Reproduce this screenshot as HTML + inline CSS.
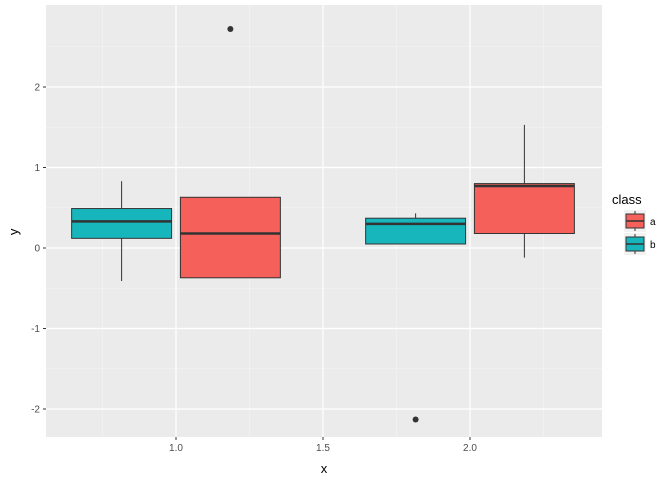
<!DOCTYPE html>
<html><head><meta charset="utf-8"><style>
body{margin:0;background:#fff;font-family:"Liberation Sans",Arial,sans-serif}
</style></head><body>
<svg id="chart" width="672" height="480" xmlns="http://www.w3.org/2000/svg"></svg>
<script>
const groups=["1.0","2.0"];
const xPos=[0.815,1.185,1.815,2.185];
const classes=["b","a","b","a"];
const whiskerHigh=[0.83,0.63,0.43,1.53];
const q3=[0.49,0.63,0.37,0.80];
const medians=[0.33,0.18,0.30,0.77];
const q1=[0.12,-0.37,0.05,0.18];
const whiskerLow=[-0.41,-0.37,0.05,-0.12];
const outX=[1.185,1.815];
const outY=[2.72,-2.13];
const yTicks=[-2,-1,0,1,2];
const xTicks=[1.0,1.5,2.0];
const fills={a:"#F5605A",b:"#17B6BD"};
const ns="http://www.w3.org/2000/svg";
const svg=document.getElementById('chart');
const P={l:46,r:602,t:5,b:437};
const X=v=>176+(v-1)*294;
const Y=v=>248-v*80.5;
const bw=0.34*294;
function el(t,a,p){const e=document.createElementNS(ns,t);for(const k in a)e.setAttribute(k,a[k]);(p||svg).appendChild(e);return e;}
const panel=el('rect',{x:P.l,y:P.t,width:P.r-P.l,height:P.b-P.t,fill:'#EBEBEB'});


for(let i=0;i<yTicks.length-1;i++){const v=(yTicks[i]+yTicks[i+1])/2;el('line',{x1:P.l,x2:P.r,y1:Y(v),y2:Y(v),stroke:'#F5F5F5','stroke-width':0.6});}
el('line',{x1:P.l,x2:P.r,y1:Y(2.5),y2:Y(2.5),stroke:'#F5F5F5','stroke-width':0.6});
[0.75,1.25,1.75,2.25].forEach(v=>el('line',{x1:X(v),x2:X(v),y1:P.t,y2:P.b,stroke:'#F5F5F5','stroke-width':0.6}));
yTicks.forEach(v=>{
  el('line',{x1:P.l,x2:P.r,y1:Y(v),y2:Y(v),stroke:'#fff','stroke-width':1.2});
  el('line',{x1:P.l-3,x2:P.l,y1:Y(v),y2:Y(v),stroke:'#333'});
  const t=el('text',{x:P.l-6,y:Y(v)+3.5,'text-anchor':'end','font-size':10,fill:'#4D4D4D'});t.textContent=v;
  
  
});
xTicks.forEach(v=>{
  el('line',{x1:X(v),x2:X(v),y1:P.t,y2:P.b,stroke:'#fff','stroke-width':1.2});
  el('line',{x1:X(v),x2:X(v),y1:P.b,y2:P.b+3,stroke:'#333'});
  const t=el('text',{x:X(v),y:P.b+14,'text-anchor':'middle','font-size':10,fill:'#4D4D4D'});t.textContent=v.toFixed(1);
  
  
});
for(let i=0;i<xPos.length;i++){
  const g=el('g',{});
  
  
  const cx=X(xPos[i]);
  el('line',{x1:cx,x2:cx,y1:Y(whiskerHigh[i]),y2:Y(whiskerLow[i]),stroke:'#333'},g);
  el('rect',{x:cx-bw/2,y:Y(q3[i]),width:bw,height:Y(q1[i])-Y(q3[i]),fill:fills[classes[i]],stroke:'#333','stroke-width':1},g);
  el('line',{x1:cx-bw/2,x2:cx+bw/2,y1:Y(medians[i]),y2:Y(medians[i]),stroke:'#333','stroke-width':2.5},g);
}
for(let i=0;i<outX.length;i++){
  const c=el('circle',{cx:X(outX[i]),cy:Y(outY[i]),r:3,fill:'#333'});
  
  
}
let t=el('text',{x:(P.l+P.r)/2,y:473,'text-anchor':'middle','font-size':13,fill:'#000'});t.textContent='x';

t=el('text',{x:18,y:Y(0.2),'text-anchor':'middle','font-size':13,fill:'#000',transform:`rotate(-90 18 ${Y(0.2)})`});t.textContent='y';

t=el('text',{x:612,y:204,'font-size':13,fill:'#000'});t.textContent='class';

["a","b"].forEach((k,i)=>{
  const g=el('g',{});
  
  
  const y0=210+i*23;
  el('rect',{x:624,y:y0,width:22,height:22,fill:'#F2F2F2'},g);
  el('line',{x1:635,x2:635,y1:y0+1,y2:y0+21,stroke:'#333'},g);
  el('rect',{x:626,y:y0+4,width:18,height:14,fill:fills[k],stroke:'#333'},g);
  el('line',{x1:626,x2:644,y1:y0+11,y2:y0+11,stroke:'#333','stroke-width':1.5},g);
  const tt=el('text',{x:650,y:y0+15,'font-size':10,fill:'#000'},g);tt.textContent=k;
});
</script>
</body></html>
